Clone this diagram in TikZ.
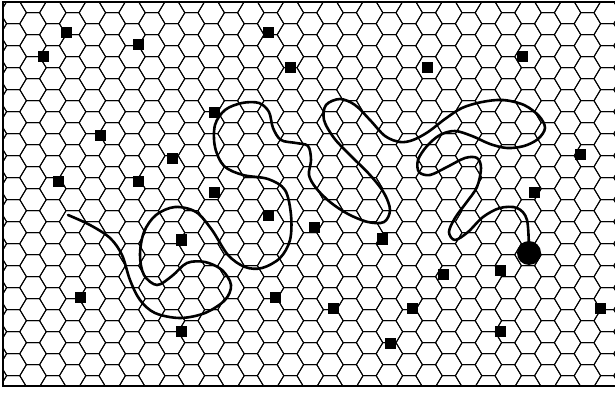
\documentclass[tikz,border=0pt]{standalone}
\usetikzlibrary{shapes.geometric}

\begin{document}
\begin{tikzpicture}[x=1pt, y=-1pt, cell/.style={draw, line width=0.95pt}, food/.style={fill, inner sep=0pt, minimum size=11pt}, trail/.style={line width=2.6pt, line cap=round, line join=round}, antdot/.style={circle, fill, inner sep=0pt, minimum size=24pt}]
\useasboundingbox (0,0) rectangle (615,395);
% hexagonal floor
\begin{scope}
\clip (3,2) rectangle (615,386);
\foreach \j in {0,...,32} \foreach \k in {-1,...,18} {
  \pgfmathsetmacro\cx{-6.6+19.8*\j}
  \pgfmathsetmacro\cy{12.7+22*\k+11*(1-mod(\j,2))}
  \draw[cell, shift={(\cx,\cy)}] (-13.2,0) -- (-6.6,-11) -- (6.6,-11) -- (13.2,0) -- (6.6,11) -- (-6.6,11) -- cycle;
}
\end{scope}
\draw[line width=2.6pt] (615,2) -- (3,2) -- (3,386) -- (615,386);
% food items
\foreach \p [count=\i] in {(66,33), (43,57), (138,45), (268,33), (290,68), (427,68), (522,57), (214,113), (100,136), (172,159), (58,182), (138,182), (214,193), (580,155), (534,193), (268,216), (314,228), (181,240), (382,239), (443,274), (500,270), (80,297), (275,297), (333,308), (412,308), (600,308), (181,331), (500,331), (390,343)}
  \node[food] (f\i) at \p {};
% walker and its trail
\node[antdot] (ant) at (529,253) {};
\coordinate (start) at (68,215);
\draw[trail] plot[smooth, tension=0.55] coordinates {(start) (90,225) (110,238) (122,255) (130,280) (140,300) (155,313) (180,318) (205,313) (225,300) (231,285) (222,270) (205,262) (187,263) (172,276) (157,285) (144,275) (140,255) (144,232) (156,215) (175,207) (196,212) (212,230) (228,255) (245,267) (262,268) (280,258) (290,240) (291,215) (285,190) (268,179) (243,175) (224,166) (215,147) (215,125) (225,110) (242,103) (259,103) (269,112) (273,128) (281,140) (296,143) (308,146) (311,160) (309,175) (316,188) (330,202) (348,214) (368,222) (384,222) (390,210) (384,193) (370,175) (350,155) (334,138) (324,120) (326,105) (340,99) (355,105) (370,120) (385,136) (400,142) (413,140) (428,132) (445,119) (462,108) (482,102) (503,100) (524,105) (539,116) (545,128) (538,139) (524,146) (507,148) (490,144) (472,136) (455,131) (440,135) (427,146) (418,160) (419,172) (430,175) (447,167) (465,158) (477,158) (481,168) (477,187) (466,203) (455,218) (449,232) (455,240) (468,232) (483,217) (500,208) (517,208) (527,220) (ant.center)};
\end{tikzpicture}
\end{document}
